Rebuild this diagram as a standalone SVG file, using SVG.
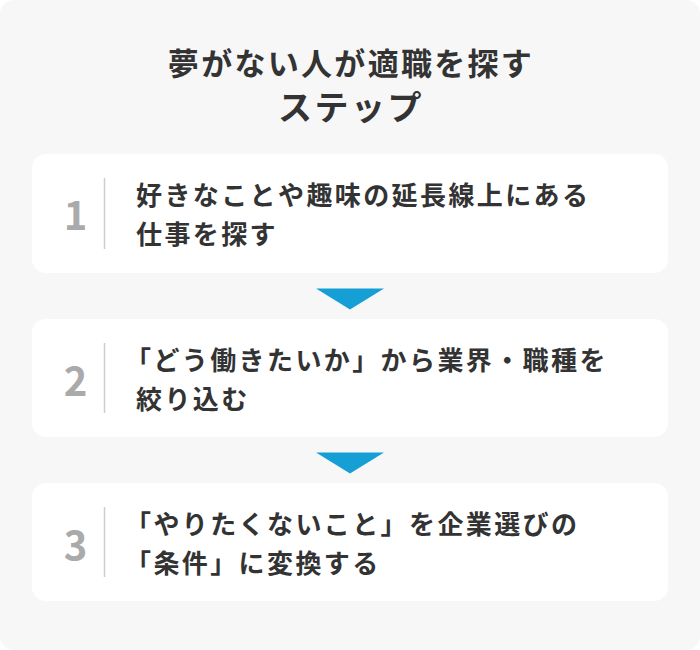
<svg xmlns="http://www.w3.org/2000/svg" width="700" height="650" viewBox="0 0 700 650">
<style>
.t{font-family:"Noto Sans CJK JP","Noto Sans",sans-serif;font-weight:700;fill:#333}
.title{font-size:31px;letter-spacing:2.3px}
.sub{font-size:34px;letter-spacing:2.5px}
.body{font-size:26px;letter-spacing:2.4px}
.num{font-family:"Noto Sans CJK JP","Noto Sans",sans-serif;font-weight:700;font-size:40px;fill:#aaaaaa}
.card{fill:#ffffff}
.sep{stroke:#cccccc;stroke-width:1.5}
.arrow{fill:#159fd4}
</style>
<rect x="0" y="0" width="700" height="650" fill="#ffffff"/>
<rect x="0" y="0" width="700" height="650" rx="14" fill="#f7f7f7"/>
<g id="title">
<text class="t title" x="351" y="75" text-anchor="middle">夢がない人が適職を探す</text>
<text class="t sub" x="351" y="120" text-anchor="middle">ステップ</text>
</g>
<g id="step1">
<rect class="card" x="32" y="154" width="636" height="119" rx="14"/>
<text class="num" x="75.5" y="230" text-anchor="middle">1</text>
<line class="sep" x1="104.5" y1="178" x2="104.5" y2="249"/>
<text class="t body" x="136" y="205">好きなことや趣味の延長線上にある</text>
<text class="t body" x="136" y="244">仕事を探す</text>
</g>
<g id="step2">
<rect class="card" x="32" y="319" width="636" height="118" rx="14"/>
<text class="num" x="75.5" y="396" text-anchor="middle">2</text>
<line class="sep" x1="104.5" y1="343" x2="104.5" y2="413"/>
<text class="t body" x="125" y="370">「どう働きたいか」から業界・職種を</text>
<text class="t body" x="136" y="409">絞り込む</text>
</g>
<g id="step3">
<rect class="card" x="32" y="483" width="636" height="118" rx="14"/>
<text class="num" x="75.5" y="560" text-anchor="middle">3</text>
<line class="sep" x1="104.5" y1="507" x2="104.5" y2="577"/>
<text class="t body" x="125" y="534">「やりたくないこと」を企業選びの</text>
<text class="t body" x="125" y="573">「条件」に変換する</text>
</g>
<g id="connectors">
<polygon class="arrow" points="316,288.5 384,288.5 350,309.5"/>
<polygon class="arrow" points="316,452.5 384,452.5 350,473.5"/>
</g>
</svg>
